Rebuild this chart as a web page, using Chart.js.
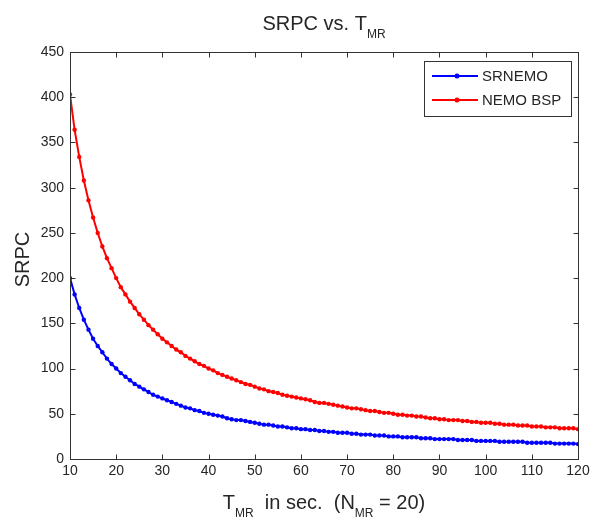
<!DOCTYPE html>
<html lang="en">
<head>
  <meta charset="UTF-8" />
  <title>SRPC vs. TMR</title>
  <script src="https://cdn.jsdelivr.net/npm/chart.js"></script>
  <style>
    html, body { margin: 0; padding: 0; background: #fff; }
    #wrap { width: 599px; height: 519px; }
  </style>
</head>
<body>
  <div id="wrap"><canvas id="srpcChart" width="599" height="519"></canvas></div>

  <script>
    // T_MR in seconds
    const tmrValues = [
      10, 11, 12, 13, 14, 15, 16, 17, 18, 19,
      20, 21, 22, 23, 24, 25, 26, 27, 28, 29,
      30, 31, 32, 33, 34, 35, 36, 37, 38, 39,
      40, 41, 42, 43, 44, 45, 46, 47, 48, 49,
      50, 51, 52, 53, 54, 55, 56, 57, 58, 59,
      60, 61, 62, 63, 64, 65, 66, 67, 68, 69,
      70, 71, 72, 73, 74, 75, 76, 77, 78, 79,
      80, 81, 82, 83, 84, 85, 86, 87, 88, 89,
      90, 91, 92, 93, 94, 95, 96, 97, 98, 99,
      100, 101, 102, 103, 104, 105, 106, 107, 108, 109,
      110, 111, 112, 113, 114, 115, 116, 117, 118, 119,
      120
    ];

    const srnemo = [
      200, 182, 167, 154, 143, 133, 125, 118, 111, 105,
      100, 95, 91, 87, 83, 80, 77, 74, 71, 69,
      67, 65, 63, 61, 59, 57, 56, 54, 53, 51,
      50, 49, 48, 47, 45, 44, 43, 43, 42, 41,
      40, 39, 38, 38, 37, 36, 36, 35, 34, 34,
      33, 33, 32, 32, 31, 31, 30, 30, 29, 29,
      29, 28, 28, 27, 27, 27, 26, 26, 26, 25,
      25, 25, 24, 24, 24, 24, 23, 23, 23, 22,
      22, 22, 22, 22, 21, 21, 21, 21, 20, 20,
      20, 20, 20, 19, 19, 19, 19, 19, 19, 18,
      18, 18, 18, 18, 18, 17, 17, 17, 17, 17,
      16.5
    ];

    const nemoBsp = [
      403, 364, 334, 308, 286, 267, 250, 235, 222, 211,
      200, 190, 182, 174, 167, 160, 154, 148, 143, 138,
      133, 129, 125, 121, 118, 114, 111, 108, 105, 103,
      100, 98, 95, 93, 91, 89, 87, 85, 83, 82,
      80, 78, 77, 75, 74, 73, 71, 70, 69, 68,
      67, 66, 65, 63, 62, 62, 61, 60, 59, 58,
      57, 56, 56, 55, 54, 53, 53, 52, 51, 51,
      50, 49, 49, 48, 48, 47, 47, 46, 45, 45,
      44, 44, 43, 43, 43, 42, 42, 41, 41, 40,
      40, 40, 39, 39, 38, 38, 38, 37, 37, 37,
      36, 36, 36, 35, 35, 35, 34, 34, 34, 34,
      33
    ];

    const xTicks = [10, 20, 30, 40, 50, 60, 70, 80, 90, 100, 110, 120];
    const yTicks = [0, 50, 100, 150, 200, 250, 300, 350, 400, 450];

    const seriesNames = ["SRNEMO", "NEMO BSP"];
    const seriesColors = ["#0000ff", "#ff0000"];

    const FONT = "'Liberation Sans', Arial, sans-serif";
    const TEXT = "#262626";

    function toPoints(ys) {
      return tmrValues.map((x, i) => ({ x, y: ys[i] }));
    }

    // draw text with subscript parts: parts = [[text, isSub], ...]
    function drawRich(ctx, parts, cx, baseline, size, subSize, subDrop) {
      let total = 0;
      parts.forEach(p => {
        ctx.font = `${p[1] ? subSize : size}px ${FONT}`;
        total += ctx.measureText(p[0]).width;
      });
      let x = cx - total / 2;
      ctx.textAlign = "left";
      ctx.textBaseline = "alphabetic";
      parts.forEach(p => {
        ctx.font = `${p[1] ? subSize : size}px ${FONT}`;
        ctx.fillText(p[0], x, p[1] ? baseline + subDrop : baseline);
        x += ctx.measureText(p[0]).width;
      });
    }

    const matlabFrame = {
      id: "matlabFrame",
      afterDraw(chart) {
        const ctx = chart.ctx;
        const a = chart.chartArea;
        const xs = chart.scales.x, ys = chart.scales.y;
        ctx.save();

        // box and inward ticks
        ctx.strokeStyle = "#333";
        ctx.lineWidth = 1;
        const L = Math.round(a.left) + 0.5, R = Math.round(a.right) + 0.5;
        const T = Math.round(a.top) + 0.5, B = Math.round(a.bottom) + 0.5;
        ctx.strokeRect(L, T, R - L, B - T);
        ctx.beginPath();
        xTicks.forEach(v => {
          const px = Math.round(xs.getPixelForValue(v)) + 0.5;
          ctx.moveTo(px, B); ctx.lineTo(px, B - 5);
          ctx.moveTo(px, T); ctx.lineTo(px, T + 5);
        });
        yTicks.forEach(v => {
          const py = Math.round(ys.getPixelForValue(v)) + 0.5;
          ctx.moveTo(L, py); ctx.lineTo(L + 5, py);
          ctx.moveTo(R, py); ctx.lineTo(R - 5, py);
        });
        ctx.stroke();

        ctx.fillStyle = TEXT;
        const cx = (a.left + a.right) / 2;

        // title
        drawRich(ctx, [["SRPC vs. T", false], ["MR", true]], cx, 30, 20, 12, 8);

        // x axis title
        drawRich(ctx, [["T", false], ["MR", true], ["  in sec.  (N", false], ["MR", true], [" = 20)", false]],
          cx, 509, 20, 12, 8);

        // y axis title
        ctx.save();
        ctx.translate(29, (a.top + a.bottom) / 2 + 4);
        ctx.rotate(-Math.PI / 2);
        ctx.font = `20px ${FONT}`;
        ctx.textAlign = "center";
        ctx.textBaseline = "alphabetic";
        ctx.fillText("SRPC", 0, 0);
        ctx.restore();

        // legend
        const bx = 424.5, by = 61.5, bw = 147, bh = 55;
        ctx.fillStyle = "#fff";
        ctx.fillRect(bx, by, bw, bh);
        ctx.strokeStyle = "#333";
        ctx.strokeRect(bx, by, bw, bh);
        seriesNames.forEach((name, i) => {
          const yRow = 76 + i * 24;
          ctx.strokeStyle = seriesColors[i];
          ctx.lineWidth = 2;
          ctx.beginPath();
          ctx.moveTo(432, yRow); ctx.lineTo(478, yRow);
          ctx.stroke();
          ctx.fillStyle = seriesColors[i];
          ctx.beginPath();
          ctx.arc(457, yRow, 2.5, 0, Math.PI * 2);
          ctx.fill();
          ctx.fillStyle = TEXT;
          ctx.font = `15px ${FONT}`;
          ctx.textAlign = "left";
          ctx.textBaseline = "middle";
          ctx.fillText(name, 482, yRow + 1);
        });

        ctx.restore();
      }
    };

    const ctx = document.getElementById("srpcChart").getContext("2d");
    new Chart(ctx, {
      type: "line",
      data: {
        datasets: [
          {
            label: seriesNames[0],
            data: toPoints(srnemo),
            borderColor: seriesColors[0],
            backgroundColor: seriesColors[0],
            borderWidth: 2,
            pointRadius: 2.2,
            pointBorderWidth: 0,
            fill: false,
            tension: 0
          },
          {
            label: seriesNames[1],
            data: toPoints(nemoBsp),
            borderColor: seriesColors[1],
            backgroundColor: seriesColors[1],
            borderWidth: 2,
            pointRadius: 2.2,
            pointBorderWidth: 0,
            fill: false,
            tension: 0
          }
        ]
      },
      options: {
        responsive: false,
        animation: false,
        layout: { padding: { top: 52, right: 21, left: 0, bottom: 0 } },
        plugins: {
          legend: { display: false },
          title: { display: false },
          tooltip: { enabled: false }
        },
        scales: {
          x: {
            type: "linear",
            min: 10,
            max: 120,
            afterBuildTicks: s => { s.ticks = xTicks.map(v => ({ value: v })); },
            afterFit: s => { s.height = 60; },
            grid: { display: false, drawTicks: false },
            border: { display: false },
            ticks: {
              padding: 4,
              color: TEXT,
              font: { family: FONT, size: 14 },
              maxRotation: 0,
              autoSkip: false
            }
          },
          y: {
            min: 0,
            max: 450,
            afterBuildTicks: s => { s.ticks = yTicks.map(v => ({ value: v })); },
            afterFit: s => { s.width = 70; },
            grid: { display: false, drawTicks: false },
            border: { display: false },
            ticks: {
              padding: 6,
              color: TEXT,
              font: { family: FONT, size: 14 },
              autoSkip: false
            }
          }
        }
      },
      plugins: [matlabFrame]
    });
  </script>
</body>
</html>
